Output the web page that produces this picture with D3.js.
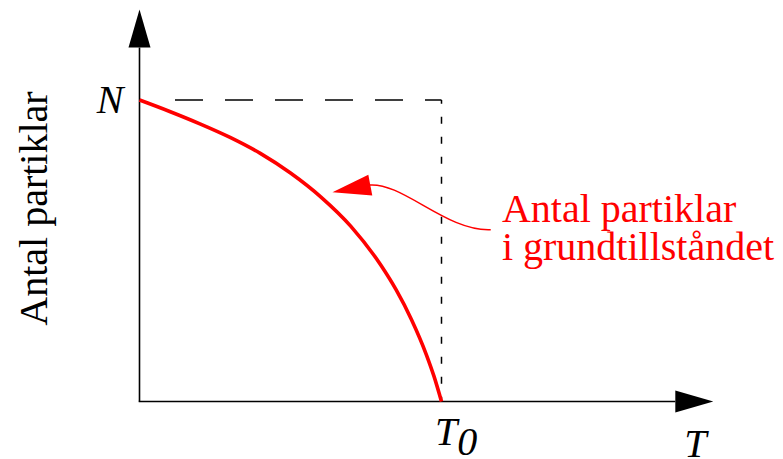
<!DOCTYPE html>
<html>
<head>
<meta charset="utf-8">
<script src="https://cdn.jsdelivr.net/npm/d3@7"></script>
<style>
  html, body { margin: 0; padding: 0; background: #fff; }
  svg { display: block; }
</style>
</head>
<body>
<script>
// Temperature as a fraction of the critical temperature T0
const tOverT0 = [0, 0.1, 0.2, 0.3, 0.4, 0.5, 0.6, 0.7, 0.8, 0.85, 0.9, 0.95, 0.975, 1.0];
// Number of particles in the ground state, as a fraction of N
const groundCount = [1.0, 0.962, 0.921, 0.876, 0.823, 0.758, 0.679, 0.581, 0.451, 0.370, 0.273, 0.155, 0.084, 0];

const yTickLabels = ["N"];
const xTickLabels = [["T", "0"]];
const yTickValues = [1];
const xTickValues = [1];
const axisTitleY = "Antal partiklar";
const axisTitleX = "T";
const calloutLines = ["Antal partiklar", "i grundtillståndet"];
// callout arrow tip, tail end and text anchor, in data units (T/T0, count/N)
const calloutTip = [0.639, 0.694];
const calloutText = [1.2, 0.597];
const calloutTail = [1.163, 0.570];

const W = 783, H = 459;
const serif = "'Liberation Serif', 'Times New Roman', serif";
const red = "#ff0000";

const svg = d3.select("body").append("svg")
  .attr("width", W).attr("height", H)
  .attr("viewBox", `0 0 ${W} ${H}`);

const x = d3.scaleLinear().domain([0, 1]).range([139.5, 441.5]);
const y = d3.scaleLinear().domain([0, 1]).range([401.5, 100]);
const xMax = 1.9, yMax = 1.3;

// ---- axes with arrowheads ----
const headLen = 38, headHalf = 11;
svg.append("line")
  .attr("x1", x(0)).attr("y1", y(0))
  .attr("x2", x(0)).attr("y2", y(yMax) + headLen)
  .attr("stroke", "#000").attr("stroke-width", 1.6);
svg.append("path")
  .attr("d", `M${x(0)},${y(yMax)} L${x(0) - headHalf},${y(yMax) + headLen} L${x(0) + headHalf},${y(yMax) + headLen} Z`)
  .attr("fill", "#000");

svg.append("line")
  .attr("x1", x(0) - 0.8).attr("y1", y(0))
  .attr("x2", x(xMax) - headLen).attr("y2", y(0))
  .attr("stroke", "#000").attr("stroke-width", 1.6);
svg.append("path")
  .attr("d", `M${x(xMax)},${y(0)} L${x(xMax) - headLen},${y(0) - headHalf} L${x(xMax) - headLen},${y(0) + headHalf} Z`)
  .attr("fill", "#000");

// ---- reference lines: N level and T0 ----
svg.append("line")
  .attr("x1", x(0)).attr("y1", y(1))
  .attr("x2", x(1)).attr("y2", y(1))
  .attr("stroke", "#000").attr("stroke-width", 1.5)
  .attr("stroke-dasharray", "0,35.5,28,22,28,22,28,22,28,22,28,22,30");
svg.append("line")
  .attr("x1", x(1)).attr("y1", y(1))
  .attr("x2", x(1)).attr("y2", y(0))
  .attr("stroke", "#000").attr("stroke-width", 1.5)
  .attr("stroke-dasharray", "7,13")
  .attr("stroke-dashoffset", 3.3);

// ---- tick labels through d3 axes ----
const yAxis = svg.append("g")
  .attr("transform", `translate(${x(0)},0)`)
  .call(d3.axisLeft(y).tickValues(yTickValues)
    .tickFormat((d, i) => yTickLabels[i]).tickSize(0).tickPadding(16));
yAxis.select(".domain").remove();
yAxis.attr("font-family", serif).attr("font-size", 40);
yAxis.selectAll("text").attr("font-style", "italic").attr("fill", "#000");

const xAxis = svg.append("g")
  .attr("transform", `translate(0,${y(0)})`)
  .call(d3.axisBottom(x).tickValues(xTickValues)
    .tickFormat(() => "").tickSize(0).tickPadding(15));
xAxis.select(".domain").remove();
xAxis.attr("font-family", serif).attr("font-size", 40);
xAxis.selectAll("text")
  .attr("font-style", "italic").attr("fill", "#000")
  .attr("text-anchor", "start").attr("x", -7)
  .each(function (d, i) {
    const t = d3.select(this);
    t.append("tspan").text(xTickLabels[i][0]);
    t.append("tspan").attr("dy", 10).text(xTickLabels[i][1]);
  });

// ---- axis titles ----
svg.append("text")
  .attr("transform", `translate(46.5,${(y(0.25) + y(1.03)) / 2}) rotate(-90)`)
  .attr("text-anchor", "middle")
  .attr("font-family", serif).attr("font-size", 40)
  .attr("fill", "#000")
  .text(axisTitleY);

svg.append("text")
  .attr("x", x(1.804)).attr("y", 457)
  .attr("font-family", serif).attr("font-size", 40)
  .attr("font-style", "italic").attr("fill", "#000")
  .text(axisTitleX);

// ---- ground state population curve ----
const line = d3.line()
  .x((d, i) => x(tOverT0[i]))
  .y(d => y(d))
  .curve(d3.curveMonotoneX);
svg.append("path")
  .datum(groundCount)
  .attr("d", line)
  .attr("fill", "none")
  .attr("stroke", red)
  .attr("stroke-width", 3.6);

// ---- callout ----
const tip = [x(calloutTip[0]), y(calloutTip[1])];
const dir = [38.1, -7.2];
const dl = Math.hypot(dir[0], dir[1]);
const ux = dir[0] / dl, uy = dir[1] / dl;
const base = [tip[0] + ux * 38.5, tip[1] + uy * 38.5];
const px = -uy, py = ux;
svg.append("path")
  .attr("d", `M${tip[0]},${tip[1]} L${base[0] + px * 10.6},${base[1] + py * 10.6} L${base[0] - px * 10.6},${base[1] - py * 10.6} Z`)
  .attr("fill", red);

const tail = [x(calloutTail[0]), y(calloutTail[1])];
const cp = d3.path();
cp.moveTo(base[0] - ux * 2, base[1]);
cp.bezierCurveTo(base[0] + 32, base[1] - 4, tail[0] - 45, tail[1] + 2, tail[0], tail[1]);
svg.append("path")
  .attr("d", cp.toString())
  .attr("fill", "none")
  .attr("stroke", red)
  .attr("stroke-width", 1.5);

const ct = svg.append("text")
  .attr("x", x(calloutText[0])).attr("y", y(calloutText[1]))
  .attr("font-family", serif).attr("font-size", 40)
  .attr("fill", red);
calloutLines.forEach((s, i) => {
  ct.append("tspan")
    .attr("x", x(calloutText[0]))
    .attr("dy", i === 0 ? 0 : 38.5)
    .text(s);
});
</script>
</body>
</html>
